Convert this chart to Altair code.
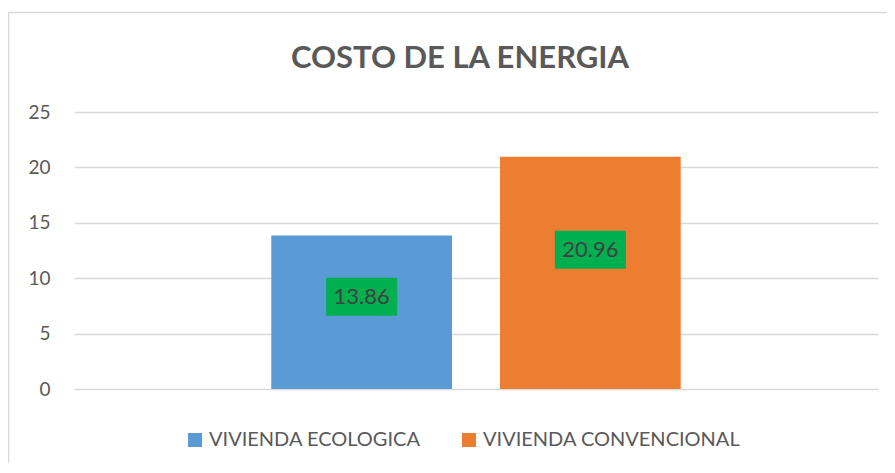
import altair as alt
import pandas as pd

title_text = "COSTO DE LA ENERGIA"
series = ["VIVIENDA ECOLOGICA", "VIVIENDA CONVENCIONAL"]
values = [13.86, 20.96]
colors = ["#5B9BD5", "#ED7D31"]
y_ticks = [0, 5, 10, 15, 20, 25]

df = pd.DataFrame({"serie": series, "valor": values})
FONT = "Lato"
GRAY = "#595959"

x_enc = alt.X("serie:N", sort=series, axis=None,
              scale=alt.Scale(domain=series, paddingInner=0.21, paddingOuter=0.8625))
y_scale = alt.Scale(domain=[0, 25], nice=False, zero=True)
y_axis = alt.Axis(values=y_ticks, title=None, domain=False, ticks=False,
                  labelFontSize=19, labelColor=GRAY, labelFont=FONT,
                  labelPadding=24, gridColor="#D9D9D9", gridWidth=1.3)

base = alt.Chart(df)

bars = base.mark_bar().encode(
    x=x_enc,
    y=alt.Y("valor:Q", scale=y_scale, axis=y_axis),
    color=alt.Color("serie:N", sort=series,
                    scale=alt.Scale(domain=series, range=colors),
                    legend=alt.Legend(title=None, orient="none", legendX=111, legendY=318,
                                      direction="horizontal", columns=2,
                                      symbolType="square", symbolSize=196,
                                      symbolStrokeWidth=0, labelFontSize=20,
                                      labelColor=GRAY, labelFont=FONT, labelLimit=400,
                                      columnPadding=38, labelOffset=4)),
)

box_path = "M-1,-0.535L1,-0.535L1,0.535L-1,0.535Z"
boxes = base.transform_calculate(valor="datum.valor * 0.6").mark_point(
    shape=box_path, size=5041, filled=True, fill="#00B050", opacity=1, strokeWidth=0
).encode(x=x_enc, y=alt.Y("valor:Q", scale=y_scale, axis=y_axis))

labels = base.transform_calculate(pos="datum.valor * 0.6").mark_text(
    font=FONT, fontSize=22, color="#404040", baseline="middle", align="center"
).encode(x=x_enc, y=alt.Y("pos:Q", scale=y_scale, axis=y_axis),
         text=alt.Text("valor:Q", format=".2f"))

border = alt.Chart(alt.Data(values=[{}])).mark_rect(
    fillOpacity=0, stroke="#D9D9D9", strokeWidth=1.5
).encode(x=alt.value(-65.5), x2=alt.value(900), y=alt.value(-99.5), y2=alt.value(500))

chart = alt.layer(border, bars, boxes, labels).properties(
    width=804, height=277,
    title=alt.TitleParams(title_text, anchor="middle", fontSize=31, font=FONT,
                          fontWeight="bold", color=GRAY, offset=0, dy=63, dx=-16),
    autosize=alt.AutoSizeParams(type="none"),
    padding={"left": 66, "top": 104, "right": 9, "bottom": 74},
).configure_view(strokeWidth=0)

chart.save("out.html", embed_options={"renderer": "svg", "actions": False})
